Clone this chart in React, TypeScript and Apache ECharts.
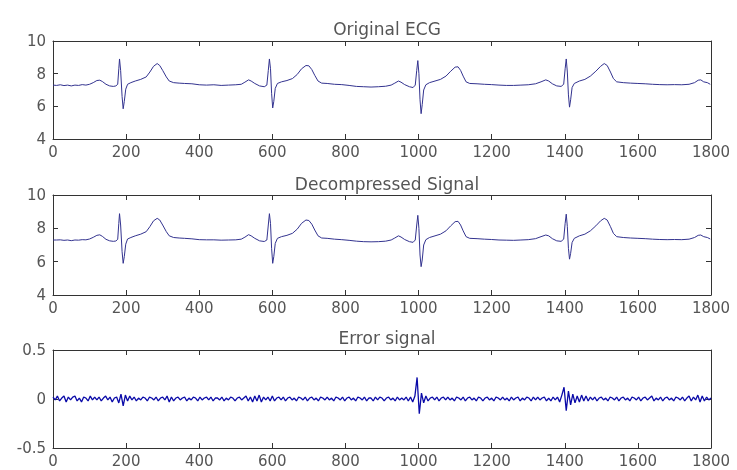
import React, { useEffect, useRef } from "react";
import * as echarts from "echarts";

// ---- data ----
const xTicks = [0, 200, 400, 600, 800, 1000, 1200, 1400, 1600, 1800];
const titles = ["Original ECG", "Decompressed Signal", "Error signal"];

const ecgX = [
  0, 10, 20, 30, 40, 50, 60, 70, 80, 90, 100, 110, 120, 128, 135, 145, 155, 165, 172, 177,
  180, 182, 185, 189, 192, 195, 199, 204, 213, 225, 240, 255, 265, 275, 285, 292, 300, 310, 318, 330,
  345, 360, 380, 400, 420, 440, 460, 480, 500, 515, 525, 535, 542, 552, 565, 578, 585, 589, 592, 595,
  598, 601, 604, 608, 614, 625, 640, 655, 668, 680, 692, 700, 708, 716, 725, 735, 750, 770, 790, 810,
  830, 850, 870, 890, 910, 925, 935, 945, 952, 962, 975, 985, 991, 995, 998, 1001, 1004, 1007, 1010, 1014,
  1020, 1030, 1045, 1060, 1075, 1088, 1100, 1108, 1115, 1122, 1130, 1140, 1160, 1180, 1200, 1220, 1240, 1260, 1280, 1300,
  1320, 1335, 1348, 1356, 1366, 1378, 1390, 1397, 1401, 1404, 1407, 1410, 1413, 1416, 1420, 1426, 1440, 1455, 1470, 1485,
  1498, 1508, 1516, 1525, 1533, 1542, 1560, 1580, 1600, 1620, 1640, 1660, 1680, 1700, 1720, 1740, 1755, 1765, 1772, 1780,
  1790, 1798,
];

const ecgOrig = [
  7.3, 7.28, 7.32, 7.27, 7.3, 7.25, 7.3, 7.28, 7.33, 7.3, 7.35, 7.45, 7.58, 7.6, 7.52, 7.35, 7.25, 7.22, 7.25, 7.35,
  8.3, 8.9, 8.2, 6.6, 5.85, 6.3, 7.05, 7.35, 7.45, 7.55, 7.65, 7.8, 8.1, 8.45, 8.62, 8.5, 8.2, 7.8, 7.55, 7.45,
  7.42, 7.4, 7.38, 7.32, 7.3, 7.32, 7.28, 7.3, 7.32, 7.35, 7.48, 7.62, 7.55, 7.4, 7.25, 7.2, 7.3, 8.2, 8.9, 8.3,
  6.8, 5.9, 6.3, 7.1, 7.4, 7.5, 7.58, 7.7, 7.95, 8.3, 8.5, 8.48, 8.25, 7.9, 7.55, 7.42, 7.4, 7.35, 7.33, 7.28,
  7.22, 7.2, 7.18, 7.2, 7.23, 7.3, 7.42, 7.55, 7.48, 7.33, 7.2, 7.15, 7.3, 8.2, 8.8, 8.0, 6.4, 5.55, 6.1, 7.0,
  7.32, 7.45, 7.55, 7.65, 7.85, 8.15, 8.4, 8.42, 8.2, 7.85, 7.5, 7.4, 7.38, 7.35, 7.33, 7.3, 7.28, 7.28, 7.3, 7.32,
  7.38, 7.5, 7.62, 7.55, 7.38, 7.25, 7.22, 7.35, 8.3, 8.9, 8.1, 6.7, 5.95, 6.4, 7.15, 7.4, 7.55, 7.65, 7.85, 8.15,
  8.45, 8.62, 8.5, 8.1, 7.7, 7.5, 7.45, 7.42, 7.4, 7.38, 7.35, 7.33, 7.32, 7.33, 7.32, 7.35, 7.45, 7.6, 7.62, 7.5,
  7.45, 7.35,
];

const ecgDecomp = [
  7.3, 7.3, 7.31, 7.28, 7.3, 7.26, 7.3, 7.29, 7.32, 7.31, 7.36, 7.46, 7.58, 7.61, 7.52, 7.34, 7.25, 7.22, 7.24, 7.34,
  8.3, 8.88, 8.2, 6.6, 5.9, 6.3, 7.05, 7.36, 7.45, 7.55, 7.65, 7.8, 8.1, 8.45, 8.6, 8.5, 8.2, 7.8, 7.55, 7.45,
  7.42, 7.4, 7.37, 7.32, 7.31, 7.31, 7.29, 7.3, 7.31, 7.35, 7.47, 7.62, 7.55, 7.4, 7.25, 7.21, 7.3, 8.2, 8.88, 8.3,
  6.8, 5.9, 6.3, 7.1, 7.4, 7.5, 7.58, 7.7, 7.95, 8.3, 8.5, 8.47, 8.25, 7.9, 7.55, 7.42, 7.4, 7.35, 7.32, 7.28,
  7.23, 7.2, 7.19, 7.2, 7.23, 7.3, 7.42, 7.55, 7.48, 7.33, 7.2, 7.16, 7.3, 8.2, 8.78, 8.0, 6.4, 5.7, 6.1, 7.0,
  7.32, 7.45, 7.55, 7.65, 7.85, 8.15, 8.4, 8.42, 8.2, 7.85, 7.5, 7.4, 7.38, 7.35, 7.33, 7.3, 7.29, 7.28, 7.3, 7.32,
  7.38, 7.5, 7.6, 7.55, 7.38, 7.25, 7.22, 7.35, 8.3, 8.85, 8.1, 6.8, 6.15, 6.5, 7.15, 7.4, 7.55, 7.65, 7.85, 8.15,
  8.45, 8.6, 8.5, 8.1, 7.7, 7.5, 7.45, 7.42, 7.4, 7.38, 7.35, 7.33, 7.32, 7.33, 7.32, 7.35, 7.45, 7.58, 7.6, 7.5,
  7.45, 7.36,
];

// error signal, one value every 6 samples (0 .. 1800)
const errStep = 6;
const errVals = [
  0.02, -0.01, 0.03, -0.02, 0.01, 0.03, -0.03, 0.02, -0.01, 0.02, 0.03, -0.02, 0.01, -0.03, 0.02, 0.01, -0.02, 0.03, -0.01, 0.02,
  -0.01, 0.02, -0.02, 0.01, 0.03, -0.01, 0.02, -0.03, 0.01, 0.02, -0.04, 0.05, -0.07, 0.04, -0.02, 0.03, -0.01, 0.02, -0.02, 0.01,
  -0.01, 0.02, 0.01, -0.02, 0.02, 0.01, -0.01, 0.02, -0.02, 0.01, 0.02, -0.01, 0.03, -0.03, 0.02, -0.02, 0.01, 0.02, -0.01, 0.01,
  0.02, -0.02, 0.01, -0.01, 0.02, 0.01, -0.02, 0.02, -0.01, 0.01, 0.02, -0.01, 0.02, -0.02, 0.01, 0.01, -0.01, 0.02, -0.02, 0.01,
  -0.01, 0.02, 0.01, -0.02, 0.01, 0.02, -0.01, 0.01, 0.03, -0.02, 0.02, -0.03, 0.03, -0.02, 0.04, -0.03, 0.02, -0.01, 0.02, -0.02,
  0.03, -0.02, 0.01, 0.02, -0.01, 0.02, -0.02, 0.01, 0.02, -0.01, 0.01, -0.02, 0.02, 0.01, -0.01, 0.02, -0.02, 0.01, 0.02, -0.01,
  0.01, -0.02, 0.02, 0.01, -0.01, 0.02, -0.01, 0.01, -0.02, 0.02, 0.01, -0.01, 0.02, -0.02, 0.01, 0.02, -0.01, 0.01, -0.02, 0.02,
  0.01, -0.01, 0.02, -0.02, 0.01, 0.01, -0.02, 0.02, -0.01, 0.02, 0.01, -0.02, 0.01, 0.02, -0.01, 0.01, -0.02, 0.02, -0.01, 0.01,
  -0.01, 0.02, -0.02, 0.02, -0.03, 0.03, 0.22, -0.15, 0.06, -0.04, 0.03, -0.02, 0.01, 0.02, -0.01, 0.02, -0.02, 0.01, 0.02, -0.01,
  0.02, -0.01, 0.01, -0.02, 0.02, 0.01, -0.01, 0.02, -0.02, 0.01, 0.02, -0.01, 0.01, -0.02, 0.02, 0.01, -0.02, 0.01, 0.02, -0.01,
  0.01, -0.02, 0.02, 0.01, -0.01, 0.02, -0.01, 0.01, -0.02, 0.02, -0.01, 0.01, 0.02, -0.02, 0.01, -0.01, 0.02, 0.01, -0.02, 0.02,
  -0.01, 0.02, -0.01, 0.01, 0.02, -0.02, 0.01, -0.02, 0.02, -0.01, 0.02, -0.03, 0.04, 0.12, -0.12, 0.08, -0.06, 0.05, -0.04, 0.03,
  -0.03, 0.04, -0.02, 0.03, -0.02, 0.02, -0.01, 0.02, -0.02, 0.01, 0.02, -0.01, 0.01, -0.02, 0.02, 0.01, -0.01, 0.02, -0.02, 0.01,
  0.02, -0.01, 0.01, -0.02, 0.02, 0.01, -0.01, 0.02, -0.02, 0.01, 0.02, -0.01, 0.01, 0.03, -0.02, 0.01, -0.01, 0.02, -0.02, 0.01,
  0.02, -0.01, 0.01, -0.02, 0.02, 0.01, -0.01, 0.02, -0.02, 0.01, 0.03, -0.02, 0.02, -0.01, 0.04, -0.03, 0.03, -0.02, 0.02, -0.01,
  0.01,
];

const ecgYRange = { min: 4, max: 10, interval: 2 };
const errYRange = { min: -0.5, max: 0.5, interval: 0.5 };

// ---- layout / style ----
const FONT = "DejaVu Sans";
const LABEL_COLOR = "#555";
const AXIS_COLOR = "#333";
const grids = [
  { left: 53, right: 26, top: 41, height: 98 },
  { left: 53, right: 26, top: 195, height: 100 },
  { left: 53, right: 26, top: 350, height: 98 },
];
const titleTops = [15, 170, 324];

const fmt = (v: number) => String(v);
const hiddenSplit = { show: true, lineStyle: { color: "rgba(0,0,0,0)" } };

export default function App() {
  const ref = useRef<HTMLDivElement>(null);

  useEffect(() => {
    if (!ref.current) return;
    const chart = echarts.init(ref.current, undefined, { renderer: "svg" });

    const xAxes: any[] = [];
    const yAxes: any[] = [];
    grids.forEach((_, i) => {
      ["bottom", "top"].forEach((pos) => {
        xAxes.push({
          type: "value",
          gridIndex: i,
          position: pos,
          min: xTicks[0],
          max: xTicks[xTicks.length - 1],
          interval: xTicks[1] - xTicks[0],
          splitLine: hiddenSplit,
          axisLine: { show: true, onZero: false, lineStyle: { color: AXIS_COLOR } },
          axisTick: { show: true, inside: true, length: 5, lineStyle: { color: "#333" } },
          axisLabel:
            pos === "bottom"
              ? { show: true, color: LABEL_COLOR, fontFamily: FONT, fontSize: 15, margin: 5, formatter: fmt }
              : { show: false },
        });
      });
      const r = i < 2 ? ecgYRange : errYRange;
      ["left", "right"].forEach((pos) => {
        yAxes.push({
          type: "value",
          gridIndex: i,
          position: pos,
          min: r.min,
          max: r.max,
          interval: r.interval,
          splitLine: hiddenSplit,
          axisLine: { show: true, onZero: false, lineStyle: { color: AXIS_COLOR } },
          axisTick: { show: true, inside: true, length: 5, lineStyle: { color: "#333" } },
          axisLabel:
            pos === "left"
              ? { show: true, color: LABEL_COLOR, fontFamily: FONT, fontSize: 15, margin: 7, formatter: fmt }
              : { show: false },
        });
      });
    });

    const origData = ecgX.map((x, i) => [x, ecgOrig[i]]);
    const decData = ecgX.map((x, i) => [x, ecgDecomp[i]]);
    const errData = errVals.map((v, i) => [i * errStep, v]);

    chart.setOption({
      animation: false,
      title: titles.map((t, i) => ({
        text: t,
        left: 382,
        top: titleTops[i],
        textAlign: "center",
        textStyle: { fontFamily: FONT, fontSize: 17, fontWeight: "normal", color: LABEL_COLOR },
      })),
      grid: grids,
      xAxis: xAxes,
      yAxis: yAxes,
      series: [
        { type: "line", xAxisIndex: 0, yAxisIndex: 0, data: origData, showSymbol: false, lineStyle: { color: "#33338f", width: 1 } },
        { type: "line", xAxisIndex: 2, yAxisIndex: 2, data: decData, showSymbol: false, lineStyle: { color: "#33338f", width: 1 } },
        { type: "line", xAxisIndex: 4, yAxisIndex: 4, data: errData, showSymbol: false, lineStyle: { color: "#0a0aa8", width: 1.3 } },
      ],
    });

    return () => chart.dispose();
  }, []);

  return <div ref={ref} style={{ position: "fixed", left: 0, top: 0, width: 737, height: 470 }} />;
}
